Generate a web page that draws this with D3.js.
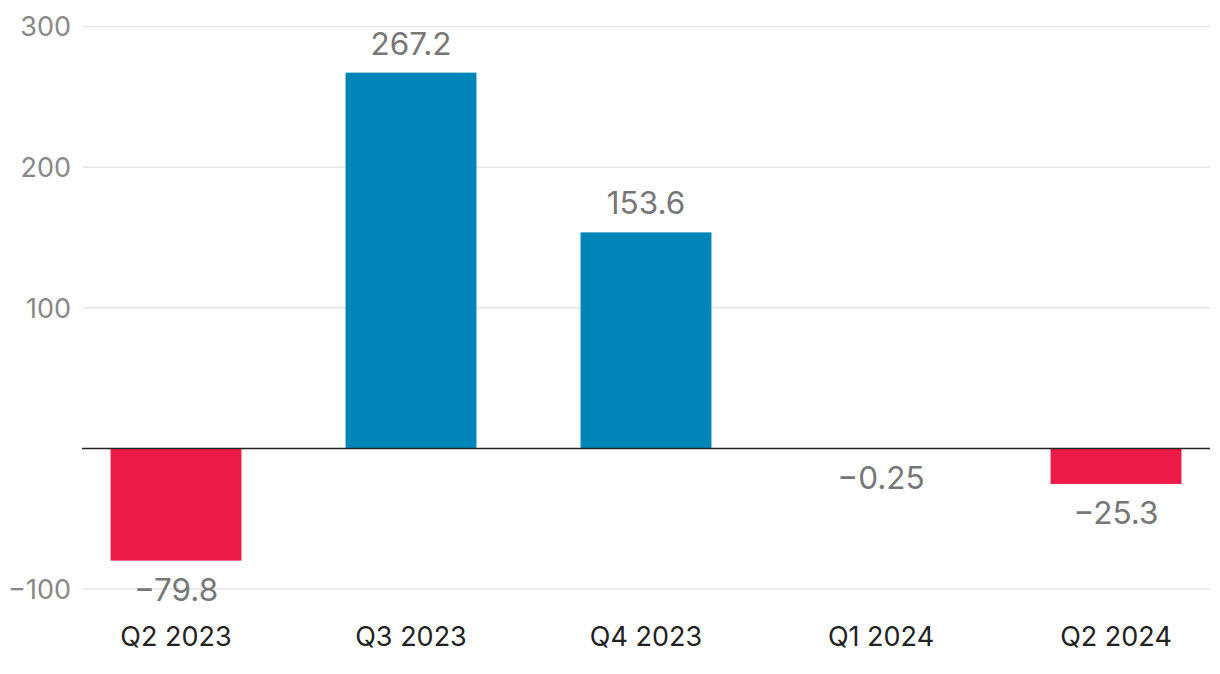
<!DOCTYPE html>
<html><head><meta charset="utf-8">
<script src="https://cdn.jsdelivr.net/npm/d3@7"></script>
<style>html,body{margin:0;padding:0;background:#fff;}svg{display:block;}</style>
</head><body><svg id="c" width="1220" height="674"></svg>
<script>
const categories = ["Q2 2023","Q3 2023","Q4 2023","Q1 2024","Q2 2024"];
const values = [-79.8, 267.2, 153.6, -0.25, -25.3];
const valueLabels = ["\u221279.8","267.2","153.6","\u22120.25","\u221225.3"];
const yTicks = [-100, 100, 200, 300];
const yTickLabels = ["\u2212100","100","200","300"];

const svg = d3.select("#c");
const FONT = "Inter, 'Liberation Sans', sans-serif";
const y = d3.scaleLinear().domain([-100, 300]).range([589, 26.5]);
const x = d3.scaleBand().domain(categories).range([58.5, 1233.5]).paddingInner(0.443).paddingOuter(0.2215);

// grid
const grid = svg.append("g");
grid.selectAll("line").data(yTicks).join("line")
  .attr("x1", 83).attr("x2", 1210)
  .attr("y1", d => y(d)).attr("y2", d => y(d))
  .attr("stroke", "#e6e6e6").attr("stroke-width", 1.5);

// y axis labels
const yAxis = d3.axisLeft(y).tickValues(yTicks).tickSize(0).tickPadding(0)
  .tickFormat((d,i) => yTickLabels[yTicks.indexOf(d)]);
const ya = svg.append("g").attr("transform", "translate(71,0)").call(yAxis);
ya.select(".domain").remove();
ya.selectAll("text").attr("font-family", FONT).attr("font-size", 27).attr("fill", "#888").attr("dy", "0.35em");

// bars
svg.append("g").selectAll("rect").data(values).join("rect")
  .attr("x", (d,i) => x(categories[i]))
  .attr("width", x.bandwidth())
  .attr("y", d => y(Math.max(0, d)))
  .attr("height", d => Math.abs(y(d) - y(0)))
  .attr("fill", d => d >= 0 ? "#0085b8" : "#eb1a46");

// zero line
svg.append("line").attr("x1", 82).attr("x2", 1210).attr("y1", y(0)).attr("y2", y(0))
  .attr("stroke", "#222").attr("stroke-width", 1.5);

// value labels
svg.append("g").selectAll("text").data(values).join("text")
  .attr("x", (d,i) => x(categories[i]) + x.bandwidth()/2)
  .attr("y", d => d >= 0 ? y(d) - 18 : y(Math.min(0,d)) + 40)
  .attr("text-anchor", "middle")
  .attr("font-family", FONT).attr("font-size", 31.5).attr("fill", "#777")
  .text((d,i) => valueLabels[i]);

// x axis labels
const xAxis = d3.axisBottom(x).tickSize(0).tickPadding(0);
const xa = svg.append("g").attr("transform", "translate(0,627)").call(xAxis);
xa.select(".domain").remove();
xa.selectAll("text").attr("font-family", FONT).attr("font-size", 27).attr("fill", "#222").attr("dy", "0.71em");
</script></body></html>
